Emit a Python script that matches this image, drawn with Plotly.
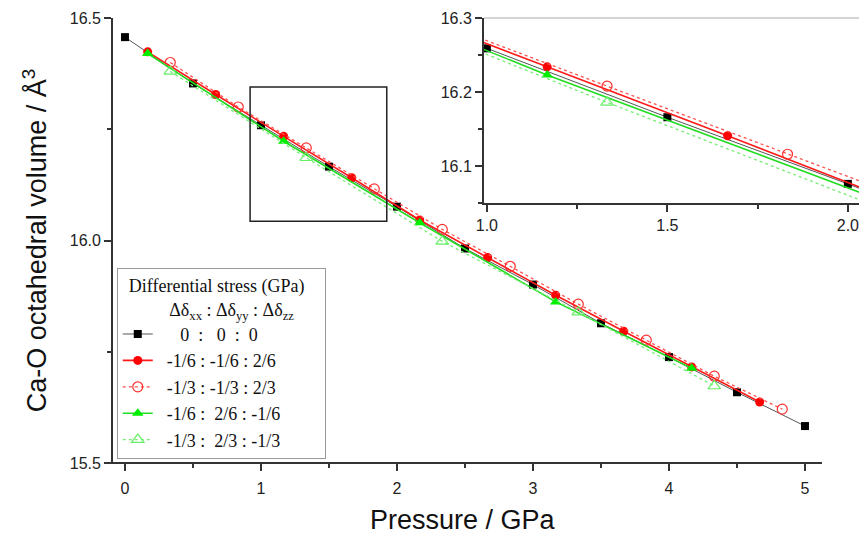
import plotly.graph_objects as go

# ---------------- data ----------------
p_black = [0.0, 0.5, 1.0, 1.5, 2.0, 2.5, 3.0, 3.5, 4.0, 4.5, 5.0]
v_black = [16.457, 16.353, 16.259, 16.166, 16.076, 15.982, 15.901, 15.814, 15.738, 15.659, 15.583]

p_red_f = [0.167, 0.667, 1.167, 1.667, 2.167, 2.667, 3.167, 3.667, 4.167, 4.667]
v_red_f = [16.424, 16.328, 16.234, 16.141, 16.046, 15.962, 15.877, 15.796, 15.716, 15.637]

p_red_o = [0.333, 0.833, 1.333, 1.833, 2.333, 2.833, 3.333, 3.833, 4.333, 4.833]
v_red_o = [16.400, 16.300, 16.208, 16.116, 16.025, 15.942, 15.857, 15.776, 15.695, 15.621]

p_grn_f = [0.167, 1.167, 2.167, 3.167, 4.167]
v_grn_f = [16.420, 16.223, 16.040, 15.862, 15.713]

p_grn_o = [0.333, 1.333, 2.333, 3.333, 4.333]
v_grn_o = [16.380, 16.186, 15.998, 15.839, 15.673]

NB = "\u00a0"
labels = [
    NB * 5 + "0" + NB * 2 + ":" + NB * 3 + "0" + NB * 2 + ":" + NB * 2 + "0",
    NB * 2 + "-1/6 : -1/6 : 2/6",
    NB * 2 + "-1/3 : -1/3 : 2/3",
    NB * 2 + "-1/6 :" + NB * 2 + "2/6 : -1/6",
    NB * 2 + "-1/3 :" + NB * 2 + "2/3 : -1/3",
]

styles = [
    dict(line=dict(color="#555555", width=1),
         marker=dict(symbol="square", size=8, color="#000000")),
    dict(line=dict(color="#ff1a1a", width=1.6),
         marker=dict(symbol="circle", size=9, color="#ff0000")),
    dict(line=dict(color="#ff5050", width=1.3, dash="dot"),
         marker=dict(symbol="circle-open", size=10, color="#ff3030", line=dict(width=1.2))),
    dict(line=dict(color="#22dd22", width=1.6),
         marker=dict(symbol="triangle-up", size=10, color="#00ee00")),
    dict(line=dict(color="#77ee77", width=1.3, dash="dot"),
         marker=dict(symbol="triangle-up-open", size=11, color="#66ee66", line=dict(width=1.2))),
]

series = [(p_black, v_black), (p_red_f, v_red_f), (p_red_o, v_red_o),
          (p_grn_f, v_grn_f), (p_grn_o, v_grn_o)]

fig = go.Figure()

for (px, vy), lab, st in zip(series, labels, styles):
    fig.add_trace(go.Scatter(x=px, y=vy, mode="lines+markers", name=lab,
                             line=st["line"], marker=st["marker"],
                             xaxis="x", yaxis="y"))
for (px, vy), lab, st in zip(series, labels, styles):
    fig.add_trace(go.Scatter(x=px, y=vy, mode="lines+markers", name=lab,
                             line=st["line"], marker=st["marker"],
                             xaxis="x2", yaxis="y2", showlegend=False))

tick_font = dict(family="Liberation Sans, Arial, sans-serif", size=16, color="#222222")
title_font = dict(family="Liberation Sans, Arial, sans-serif", size=27, color="#111111")
axis_col = "#333333"
serif = "Liberation Serif, Times New Roman, serif"

fig.update_layout(
    width=859, height=530,
    margin=dict(l=105, r=0, t=10, b=75),
    paper_bgcolor="white", plot_bgcolor="white",
    xaxis=dict(domain=[0, 1], range=[-0.088, 5.456], tickmode="linear", tick0=0, dtick=1,
               ticks="outside", ticklen=7, tickwidth=1.5, tickcolor=axis_col,
               minor=dict(dtick=0.5, tick0=0, ticks="outside", ticklen=4, tickwidth=1.5, tickcolor=axis_col),
               showline=False, showgrid=False, zeroline=False, tickfont=tick_font,
               ticklabelstandoff=4),
    yaxis=dict(domain=[0, 1], range=[15.5, 16.5], tickmode="linear", tick0=15.5, dtick=0.5,
               tickformat=".1f", ticks="outside", ticklen=7, tickwidth=1.5, tickcolor=axis_col,
               minor=dict(dtick=0.25, tick0=15.5, ticks="outside", ticklen=4, tickwidth=1.5, tickcolor=axis_col),
               showline=True, linecolor=axis_col, linewidth=1.8, showgrid=False, zeroline=False,
               tickfont=tick_font,
               title=dict(text="Ca-O octahedral volume / Å<sup>3</sup>", font=title_font, standoff=15)),
    xaxis2=dict(domain=[0.492, 1], anchor="y2", range=[0.992, 2.053], tickmode="linear",
                tick0=1.0, dtick=0.5, tickformat=".1f",
                ticks="outside", ticklen=7, tickwidth=1.5, tickcolor=axis_col,
                minor=dict(dtick=0.25, tick0=1.0, ticks="outside", ticklen=4, tickwidth=1.5, tickcolor=axis_col),
                showline=True, linecolor=axis_col, linewidth=1.8, showgrid=False, zeroline=False,
                tickfont=tick_font),
    yaxis2=dict(domain=[0.584, 1], anchor="x2", range=[16.05, 16.3], tickmode="linear",
                tick0=16.1, dtick=0.1, tickformat=".1f",
                ticks="outside", ticklen=7, tickwidth=1.5, tickcolor=axis_col,
                minor=dict(dtick=0.05, tick0=16.05, ticks="outside", ticklen=4, tickwidth=1.5, tickcolor=axis_col),
                showline=True, linecolor=axis_col, linewidth=1.8, showgrid=False, zeroline=False,
                tickfont=tick_font),
    legend=dict(x=0.005, y=0.009, xanchor="left", yanchor="bottom",
                bgcolor="white", bordercolor="#999999", borderwidth=1,
                font=dict(family=serif, size=18, color="#111111"),
                title=dict(text=NB * 2 + "Differential stress (GPa)" + NB * 4 + "<br>" + NB * 11 +
                           "Δδ<sub>xx</sub> : Δδ<sub>yy</sub> : Δδ<sub>zz</sub>",
                           font=dict(family=serif, size=18, color="#111111")),
                tracegroupgap=0),
    showlegend=True,
)

# x-axis title placed where the original has it
fig.add_annotation(text="Pressure / GPa", xref="paper", yref="paper", x=0.464, y=-0.128,
                   xanchor="center", yanchor="middle", showarrow=False, font=title_font)

# main x-axis line (ends short of the right edge, as in the original)
fig.add_shape(type="line", xref="paper", yref="paper", x0=-0.004, x1=0.9403, y0=0, y1=0,
              line=dict(color=axis_col, width=1.8))
# inset top border
fig.add_shape(type="line", xref="paper", yref="paper", x0=0.492, x1=1.0, y0=1, y1=1,
              line=dict(color="#aaaaaa", width=1))
# zoom rectangle in main plot
fig.add_shape(type="rect", xref="x", yref="y", x0=0.92, x1=1.925, y0=16.043, y1=16.345,
              line=dict(color="#222222", width=1.5))

fig.write_html("out.html")
